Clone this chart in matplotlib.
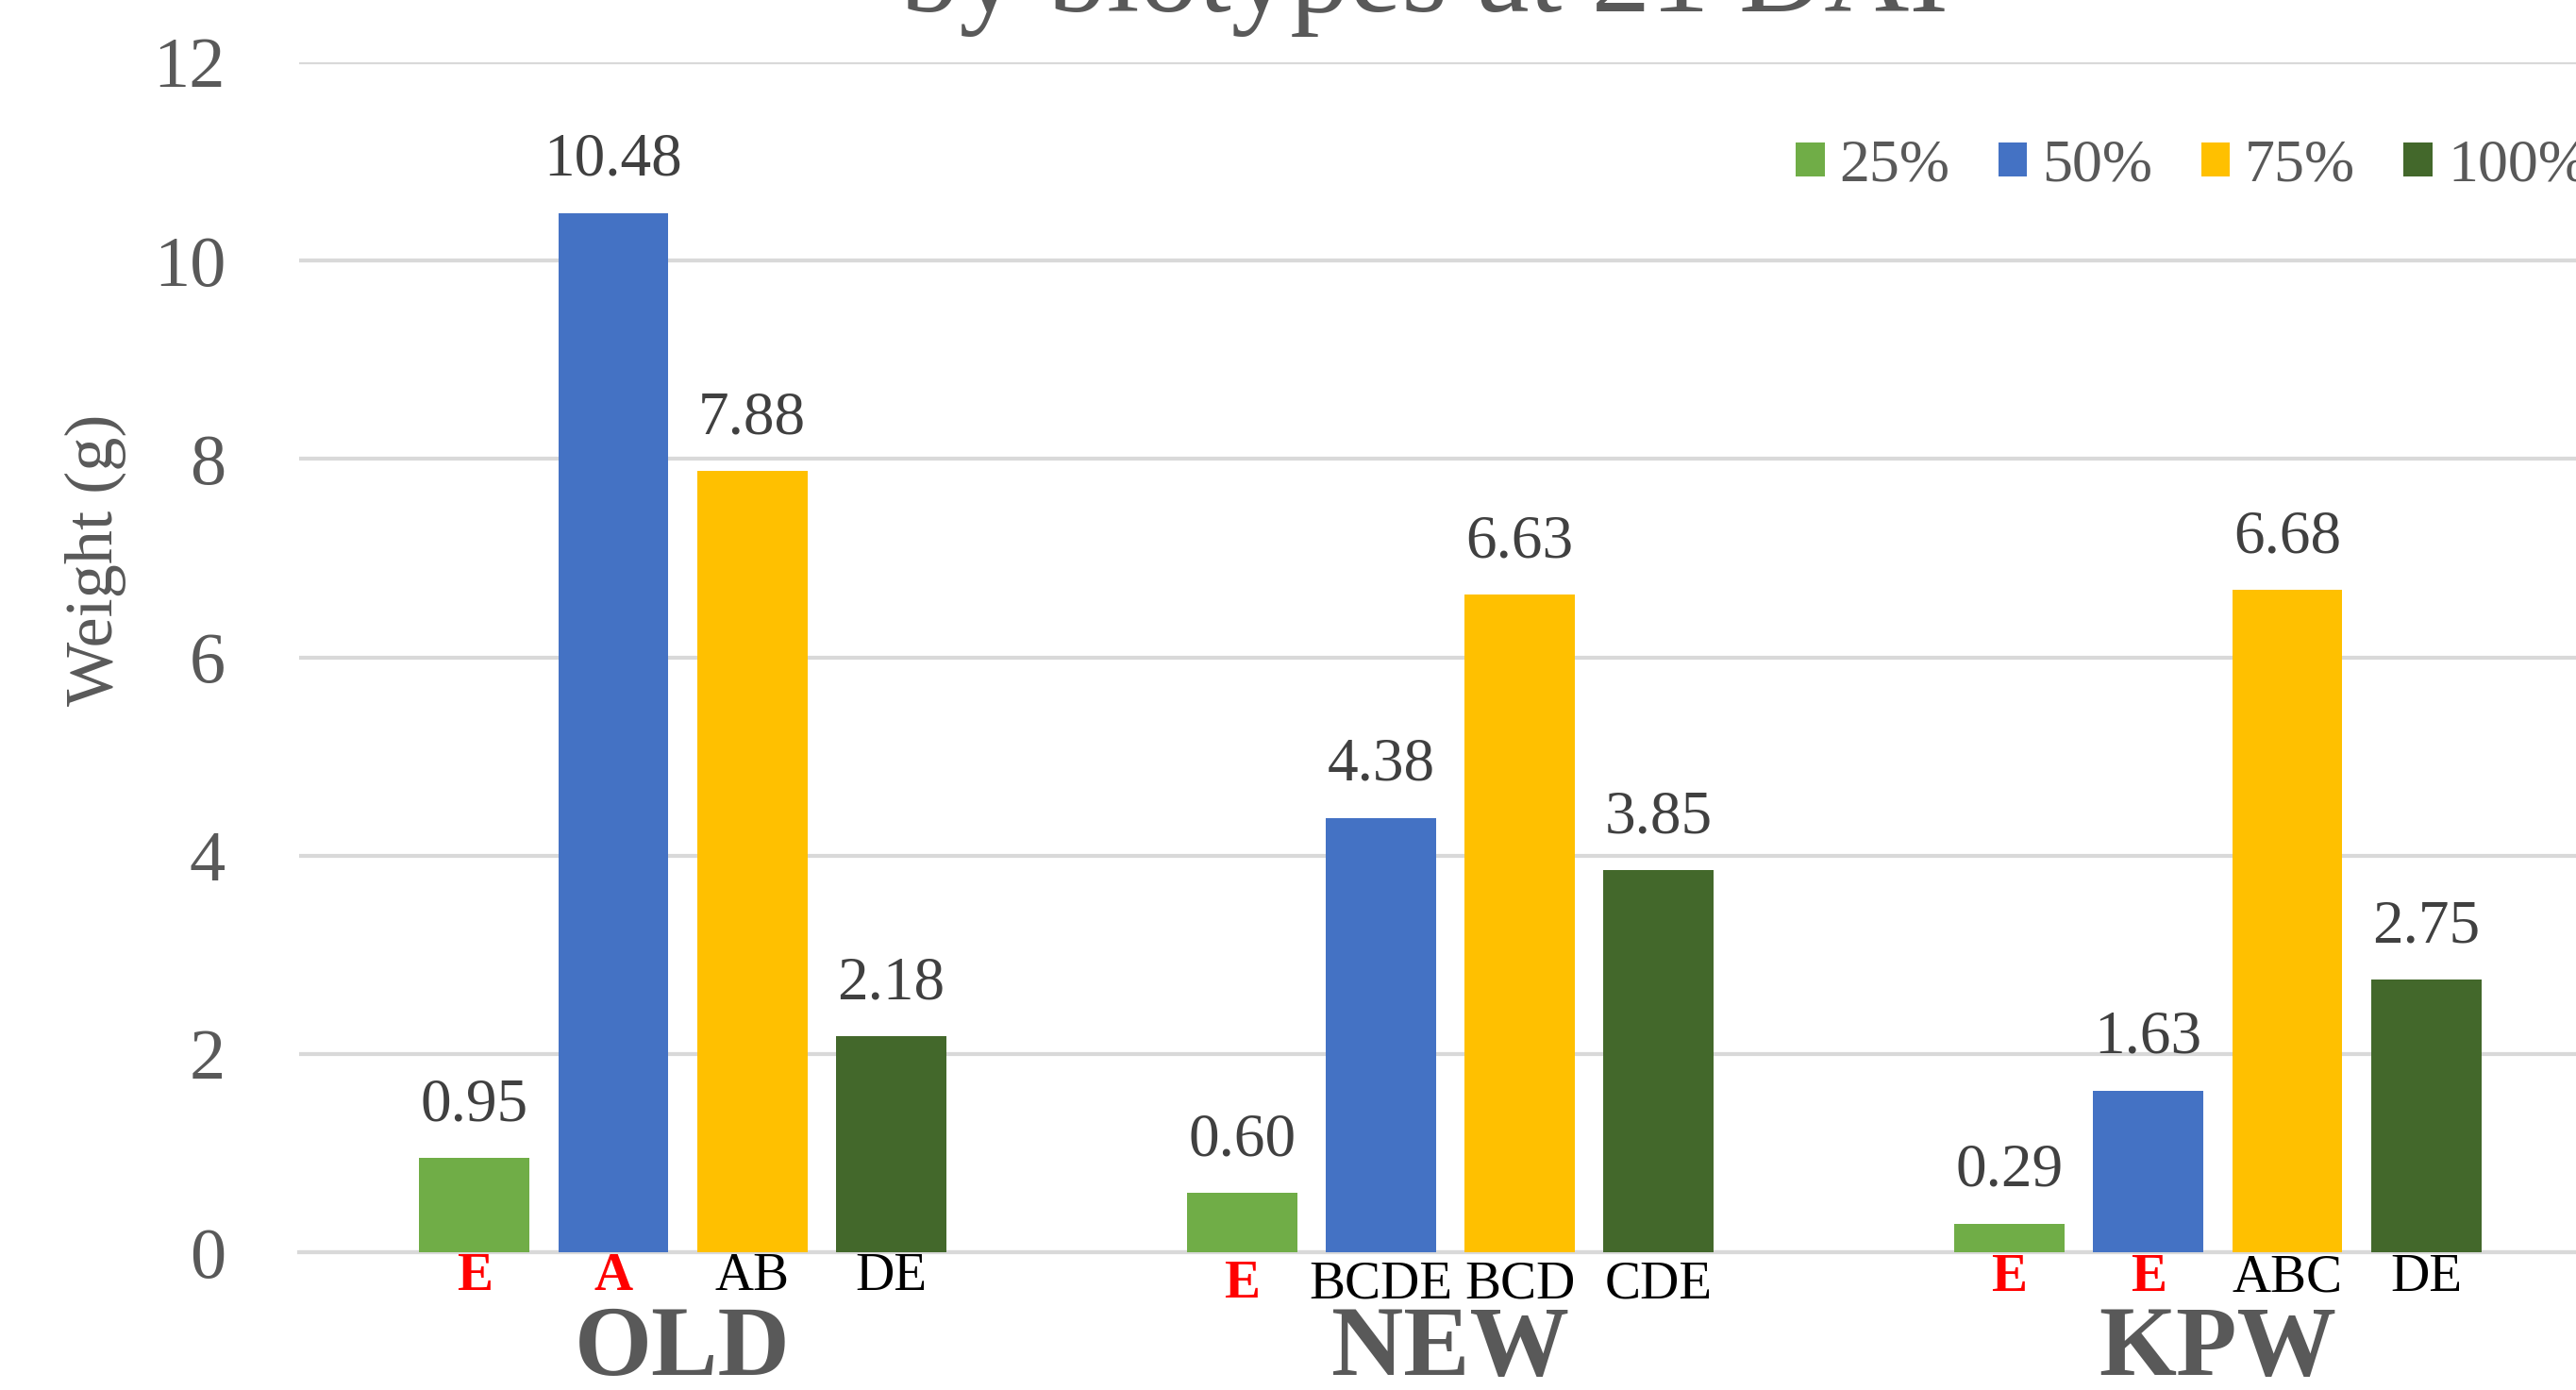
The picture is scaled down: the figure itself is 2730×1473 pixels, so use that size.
import matplotlib.pyplot as plt
import matplotlib.transforms as mtransforms
import numpy as np

plt.rcParams['font.family'] = ['Liberation Serif', 'DejaVu Serif']

# data
groups = ['OLD', 'NEW', 'KPW']
levels = ['25%', '50%', '75%', '100%']
weights = {
    '25%': [0.95, 0.60, 0.29],
    '50%': [10.48, 4.38, 1.63],
    '75%': [7.88, 6.63, 6.68],
    '100%': [2.18, 3.85, 2.75],
}
letters = {
    '25%': ['E', 'E', 'E'],
    '50%': ['A', 'BCDE', 'E'],
    '75%': ['AB', 'BCD', 'ABC'],
    '100%': ['DE', 'CDE', 'DE'],
}
# letters drawn in bold red in the source
highlighted = {
    '25%': [True, True, True],
    '50%': [True, False, True],
    '75%': [False, False, False],
    '100%': [False, False, False],
}
colors = ['#70AD47', '#4472C4', '#FFC000', '#43682B']

fig = plt.figure(figsize=(27.3, 14.73), dpi=100)
ax = fig.add_axes([0.1161, 0.0991, 0.8938, 0.8561])

x = np.arange(len(groups))
step = 0.181
width = 0.1435
letter_y = [0.0815, 0.0760, 0.0805]
mixed = mtransforms.blended_transform_factory(ax.transData, fig.transFigure)

for i, lvl in enumerate(levels):
    pos = x + (i - 1.5) * step
    bars = ax.bar(pos, weights[lvl], width, color=colors[i], label=lvl, zorder=3)
    for b, v in zip(bars, weights[lvl]):
        ax.annotate(f'{v:.2f}', (b.get_x() + b.get_width() / 2, v),
                    xytext=(0, 40), textcoords='offset points',
                    ha='center', va='center', fontsize=47, color='#404040')
    for j, lab in enumerate(letters[lvl]):
        if highlighted[lvl][j]:
            ax.text(pos[j], letter_y[j], lab, transform=mixed, ha='center', va='center',
                    fontsize=41, color='#FF0000', fontweight='bold')
        else:
            ax.text(pos[j], letter_y[j], lab, transform=mixed, ha='center', va='center',
                    fontsize=41, color='black')

for g, name in zip(x, groups):
    ax.text(g, 0.0285, name, transform=mixed, ha='center', va='center',
            fontsize=76, fontweight='bold', color='#595959')

ax.set_xlim(-0.5, 2.5)
ax.set_ylim(0, 12)
ax.set_yticks(range(0, 13, 2))
ax.set_xticks([])
ax.tick_params(axis='y', length=0, pad=56, labelsize=55, labelcolor='#595959')
ax.grid(axis='y', color='#D9D9D9', linewidth=3, zorder=0)
for s in ['top', 'right', 'left']:
    ax.spines[s].set_visible(False)
ax.spines['bottom'].set_color('#D9D9D9')
ax.spines['bottom'].set_linewidth(3)

fig.text(0.037, 0.597, 'Weight (g)', rotation=90, ha='center', va='center',
         fontsize=52, color='#595959')

# title is cut off at the top edge of the image
fig.text(0.553, 0.9919, 'by biotypes at 21 DAI', ha='center', va='baseline',
         fontsize=90, color='#595959')

ax.legend(loc='center left', bbox_to_anchor=(1903 / 2730, 1 - 177 / 1473),
          bbox_transform=fig.transFigure, ncol=4, frameon=False, fontsize=46,
          handlelength=0.48, handleheight=0.48, handletextpad=0.25,
          columnspacing=0.8, borderpad=0, borderaxespad=0, labelcolor='#595959')

fig.savefig('out.png', dpi=100)
